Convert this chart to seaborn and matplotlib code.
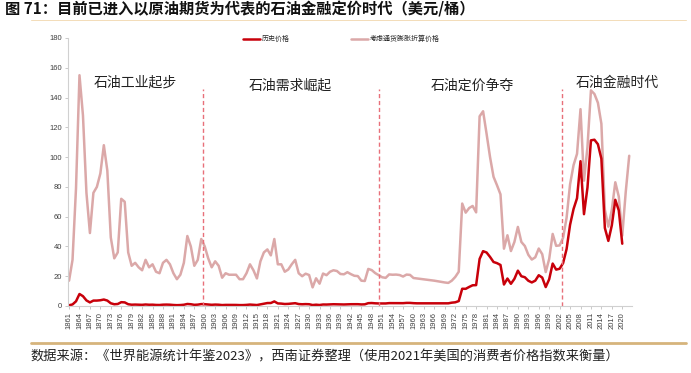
import pandas as pd
import seaborn as sns
import matplotlib.pyplot as plt
from matplotlib.lines import Line2D

# ---------------- data (USD/bbl) ----------------
years = list(range(1861, 2023))

# historical (money of the day) price, 1861-2020
hist_price = [
    0.49, 1.05, 3.15, 8.06, 6.59, 3.74, 2.41, 3.63, 3.64, 3.86,
    4.34, 3.64, 1.83, 1.17, 1.35, 2.56, 2.42, 1.19, 0.86, 0.95,
    0.86, 0.78, 1.00, 0.84, 0.88, 0.71, 0.67, 0.88, 0.94, 0.87,
    0.67, 0.56, 0.64, 0.84, 1.36, 1.18, 0.79, 0.91, 1.29, 1.19,
    0.96, 0.80, 0.94, 0.86, 0.62, 0.73, 0.72, 0.72, 0.70, 0.61,
    0.61, 0.74, 0.95, 0.81, 0.64, 1.10, 1.56, 1.98, 2.01, 3.07,
    1.73, 1.61, 1.34, 1.43, 1.68, 1.88, 1.30, 1.17, 1.27, 1.19,
    0.65, 0.87, 0.67, 1.00, 0.97, 1.09, 1.18, 1.13, 1.02, 1.02,
    1.14, 1.19, 1.20, 1.21, 1.05, 1.12, 1.90, 1.99, 1.80, 1.71,
    1.71, 1.71, 1.93, 1.93, 1.93, 1.93, 1.90, 2.08, 2.08, 1.90,
    1.80, 1.80, 1.80, 1.80, 1.80, 1.80, 1.80, 1.80, 1.80, 1.80,
    2.24, 2.48, 3.29, 11.58, 11.53, 12.80, 13.92, 14.02, 31.61, 36.83,
    35.93, 32.97, 29.55, 28.78, 27.56, 14.43, 18.44, 14.92, 18.23, 23.73,
    20.00, 19.32, 16.97, 15.82, 17.02, 20.67, 19.09, 12.72, 17.97, 28.50,
    24.44, 25.02, 28.83, 38.27, 54.52, 65.14, 72.39, 97.26, 61.67, 79.50,
    111.26, 111.67, 108.66, 98.95, 52.39, 43.73, 54.19, 71.31, 64.21, 41.84,
]

# inflation adjusted price, 1861-2022
real_price = [
    17, 31, 79, 155, 128, 76, 49, 76, 80, 89,
    108, 91, 46, 32, 36, 72, 70, 36, 27, 29,
    26, 24, 31, 26, 28, 23, 22, 29, 31, 28,
    22, 18, 21, 29, 47, 40, 27, 31, 45, 40,
    32, 26, 30, 27, 19, 22, 21, 21, 21, 18,
    18, 22, 28, 24, 18.5, 30, 36, 38, 34, 45,
    28, 28, 23, 24.5, 28, 31, 22, 20, 21.7, 20.8,
    12.5, 18.6, 15, 21.8, 20.7, 23, 24, 23.5, 21.5, 21.3,
    22.7, 21.4, 20.3, 20.1, 17, 16.8, 24.9, 24.1, 22.1, 20.7,
    19.3, 18.9, 21.2, 21, 21.1, 20.8, 19.8, 21.1, 20.9, 18.8,
    18.5, 18.2, 17.9, 17.6, 17.3, 17.0, 16.6, 16.2, 15.8, 15.5,
    17, 19.5, 23, 68.8, 62.7, 65.8, 67.2, 62.9, 127.4, 130.8,
    115.7, 100, 86.8, 81.1, 75, 38.5, 47.5, 36.9, 43, 53.1,
    43, 40.3, 34.4, 31.2, 32.7, 38.6, 34.8, 22.8, 31.6, 48.4,
    40.4, 40.7, 45.9, 59.3, 81.7, 94.6, 102.2, 132.2, 84.2, 106.7,
    144.8, 142.4, 136.5, 122.4, 64.7, 53.3, 64.7, 83.1, 73.5, 47.3,
    76.6, 100.9,
]

era_names = ["石油工业起步", "石油需求崛起", "石油定价争夺", "石油金融时代"]
era_breaks = [1899.6, 1950, 2002.8]
tick_years = list(range(1861, 2021, 3))

title = "图 71：目前已进入以原油期货为代表的石油金融定价时代（美元/桶）"
source = "数据来源：《世界能源统计年鉴2023》，西南证券整理（使用2021年美国的消费者价格指数来衡量）"


def main():
    sns.set_theme(style="white")
    plt.rcParams['font.family'] = ['Noto Sans CJK SC', 'DejaVu Sans']

    df = pd.DataFrame({
        "year": years,
        "real": real_price,
        "hist": hist_price + [None] * (len(years) - len(hist_price)),
    })

    red = "#c8000a"
    pink = "#dba8a8"

    fig = plt.figure(figsize=(6.91, 3.73), dpi=100)
    ax = fig.add_axes([68 / 691, 67 / 373, 564 / 691, 268 / 373])

    sns.lineplot(data=df, x="year", y="real", color=pink, lw=1.8, ax=ax)
    sns.lineplot(data=df, x="year", y="hist", color=red, lw=1.8, ax=ax)

    # era boundaries
    ax.vlines(era_breaks, 0, 146, colors="#e8707a", linestyles=(0, (3, 2)), lw=1)

    # era labels
    label_x = [1880, 1924.5, 1977, 2018.5]
    label_y = [150, 148, 148, 150]
    for name, lx, ly in zip(era_names, label_x, label_y):
        ax.text(lx, ly, name, fontsize=10, ha="center", va="center", color="#222222")

    ax.set_xlim(1860.7, 2022.8)
    ax.set_ylim(0, 180)
    ax.set_yticks(range(0, 181, 20))
    ax.set_xticks(tick_years)
    ax.set_xticklabels([str(y) for y in tick_years], rotation=90)
    ax.set_xlabel("")
    ax.set_ylabel("")

    for side in ["top", "right"]:
        ax.spines[side].set_visible(False)
    for side in ["left", "bottom"]:
        ax.spines[side].set_color("#d0d0d0")
        ax.spines[side].set_linewidth(0.8)
    ax.tick_params(axis="both", labelsize=5.5, labelcolor="#404040",
                   length=2.5, width=0.6, color="#c0c0c0", pad=2,
                   left=True, bottom=True)
    for lab in ax.get_xticklabels() + ax.get_yticklabels():
        lab.set_family(["Liberation Sans", "DejaVu Sans"])

    # legend
    handles = [Line2D([], [], color=red, lw=1.8), Line2D([], [], color=pink, lw=1.8)]
    fig.legend(handles, ["历史价格", "考虑通货膨胀折算价格"], ncol=2,
               loc="center left", bbox_to_anchor=(243 / 691, 1 - 39 / 373),
               frameon=False, fontsize=5, handlelength=2.4, handletextpad=0.3,
               columnspacing=8.8, borderpad=0, borderaxespad=0)

    # title + rules + source
    fig.text(5 / 691, 1 - 9 / 373, title, fontsize=11, fontweight="bold",
             va="center", ha="left", color="#111111")
    fig.add_artist(Line2D([31 / 691, 686 / 691], [1 - 20 / 373] * 2,
                          color="#f3dcb8", lw=0.7))
    fig.add_artist(Line2D([31 / 691, 686 / 691], [1 - 343 / 373] * 2,
                          color="#d6b47c", lw=2))
    fig.text(30 / 691, 1 - 357 / 373, source, fontsize=9.5, style="italic",
             va="center", ha="left", color="#222222")

    fig.savefig("out.png", dpi=100)


if __name__ == "__main__":
    main()
